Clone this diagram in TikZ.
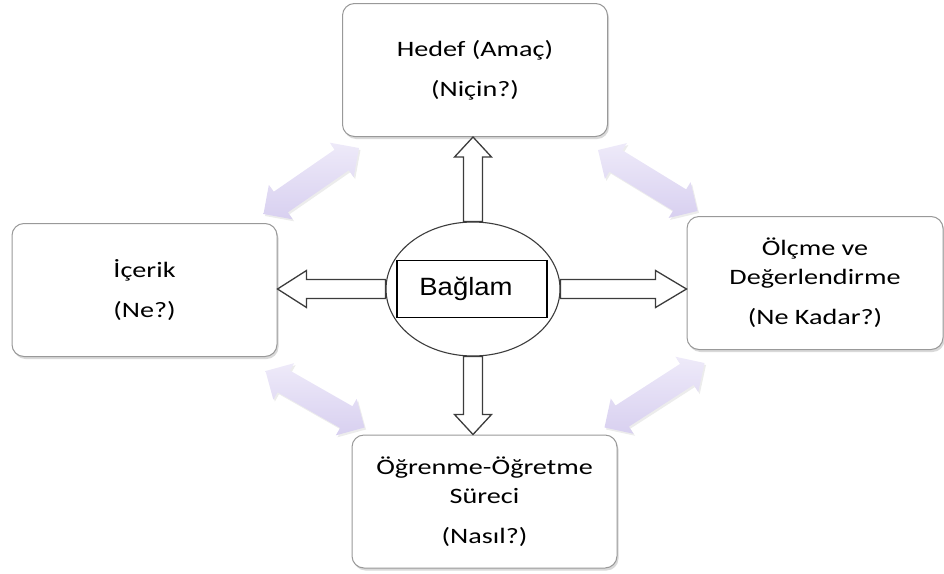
\documentclass[tikz,border=0pt]{standalone}
\usepackage{fontspec}
\setmainfont{Carlito}[FakeStretch=1.28]
\newfontfamily\baglamfont{Liberation Sans}[FakeStretch=1.1]
\usepackage{tikz}
\usetikzlibrary{shapes.geometric}
\usetikzlibrary{positioning}
\usetikzlibrary{shadows,calc}
\definecolor{lila}{RGB}{238,234,249}
\definecolor{lilakoyu}{RGB}{216,208,240}
\definecolor{cizgi}{RGB}{60,60,60}
% tek yonlu blok ok: #1 -> #2, uc boyu #3
\newcommand{\blokok}[3]{%
  \coordinate (bq) at ($(#2)!#3!(#1)$);
  \path[blok] ($(#1)!9.5pt!90:(#2)$) -- ($(bq)!9.5pt!90:(#2)$) -- ($(bq)!18.5pt!90:(#2)$)
    -- (#2) -- ($(bq)!18.5pt!-90:(#2)$) -- ($(bq)!9.5pt!-90:(#2)$) -- ($(#1)!9.5pt!-90:(#2)$) -- cycle;}
% cift yonlu ok: #1 <-> #2
\newcommand{\ciftok}[2]{%
  \coordinate (c1) at ($(#1)!21pt!(#2)$);
  \coordinate (c2) at ($(#2)!21pt!(#1)$);
  \path[cift] (#1) -- ($(c1)!21pt!90:(#2)$) -- ($(c1)!12.5pt!90:(#2)$) -- ($(c2)!12.5pt!-90:(#1)$)
    -- ($(c2)!21pt!-90:(#1)$) -- (#2) -- ($(c2)!21pt!90:(#1)$) -- ($(c2)!12.5pt!90:(#1)$)
    -- ($(c1)!12.5pt!-90:(#2)$) -- ($(c1)!21pt!-90:(#2)$) -- cycle;}

\begin{document}
\begin{tikzpicture}[
x=1pt, y=-1pt,
kutu/.style = {
  draw=black!40,
  line width=1pt,
  fill=white,
  rounded corners=12pt,
  minimum width=265pt,
  minimum height=133pt,
  align=center,
  font=\fontsize{22}{29}\selectfont,
  drop shadow={shadow xshift=1.5pt, shadow yshift=-2.5pt, opacity=0.3}},
blok/.style = {draw=cizgi, line width=1.3pt, fill=white, line join=miter},
cift/.style = {top color=lila, bottom color=lilakoyu,
  drop shadow={shadow xshift=1.5pt, shadow yshift=-2pt, opacity=0.15}},
]
\useasboundingbox (0,0) rectangle (944,573);

\node[kutu] (hedef) at (475,70) {Hedef (Amaç)\\[11pt](Niçin?)};
\node[kutu] (icerik) at (144.5,290) {İçerik\\[11pt](Ne?)};
\node[kutu, minimum width=256pt] (olcme) at (815,283) {Ölçme ve\\Değerlendirme\\[11pt](Ne Kadar?)};
\node[kutu] (surec) at (484.5,501.5) {Öğrenme-Öğretme\\Süreci\\[11pt](Nasıl?)};

\coordinate (sola) at ($(icerik.north east)+(-14,-9)$);
\coordinate (sagb) at ($(hedef.south west)+(17,11)$);
\coordinate (solb) at ($(hedef.south east)+(-10,13)$);
\coordinate (saga) at ($(olcme.north west)+(11,-5)$);
\coordinate (asol) at ($(icerik.south east)+(-12,14)$);
\coordinate (asag) at ($(surec.north west)+(13,-7)$);
\coordinate (bsol) at ($(surec.north east)+(-13,-7)$);
\coordinate (bsag) at ($(olcme.south west)+(18,13)$);
\ciftok{sola}{sagb}
\ciftok{solb}{saga}
\ciftok{asol}{asag}
\ciftok{bsol}{bsag}

\node[draw=cizgi, line width=1.1pt, fill=white, ellipse, minimum width=174pt, minimum height=134pt] (e) at (473,289) {};
\node[draw=black, line width=1.3pt, minimum width=150pt, minimum height=57pt,
  font=\baglamfont\fontsize{25}{30}\selectfont] (baglam) at (472,289) {Bağlam\hspace*{12pt}};

\coordinate (ustu) at (e.north |- hedef.south);
\coordinate (altu) at (e.south |- surec.north);
\coordinate (solu) at (e.west -| icerik.east);
\coordinate (sagu) at (e.east -| olcme.west);
\blokok{e.north}{ustu}{20pt}
\blokok{e.south}{altu}{20pt}
\blokok{e.west}{solu}{29pt}
\blokok{e.east}{sagu}{31pt}

\end{tikzpicture}
\end{document}
